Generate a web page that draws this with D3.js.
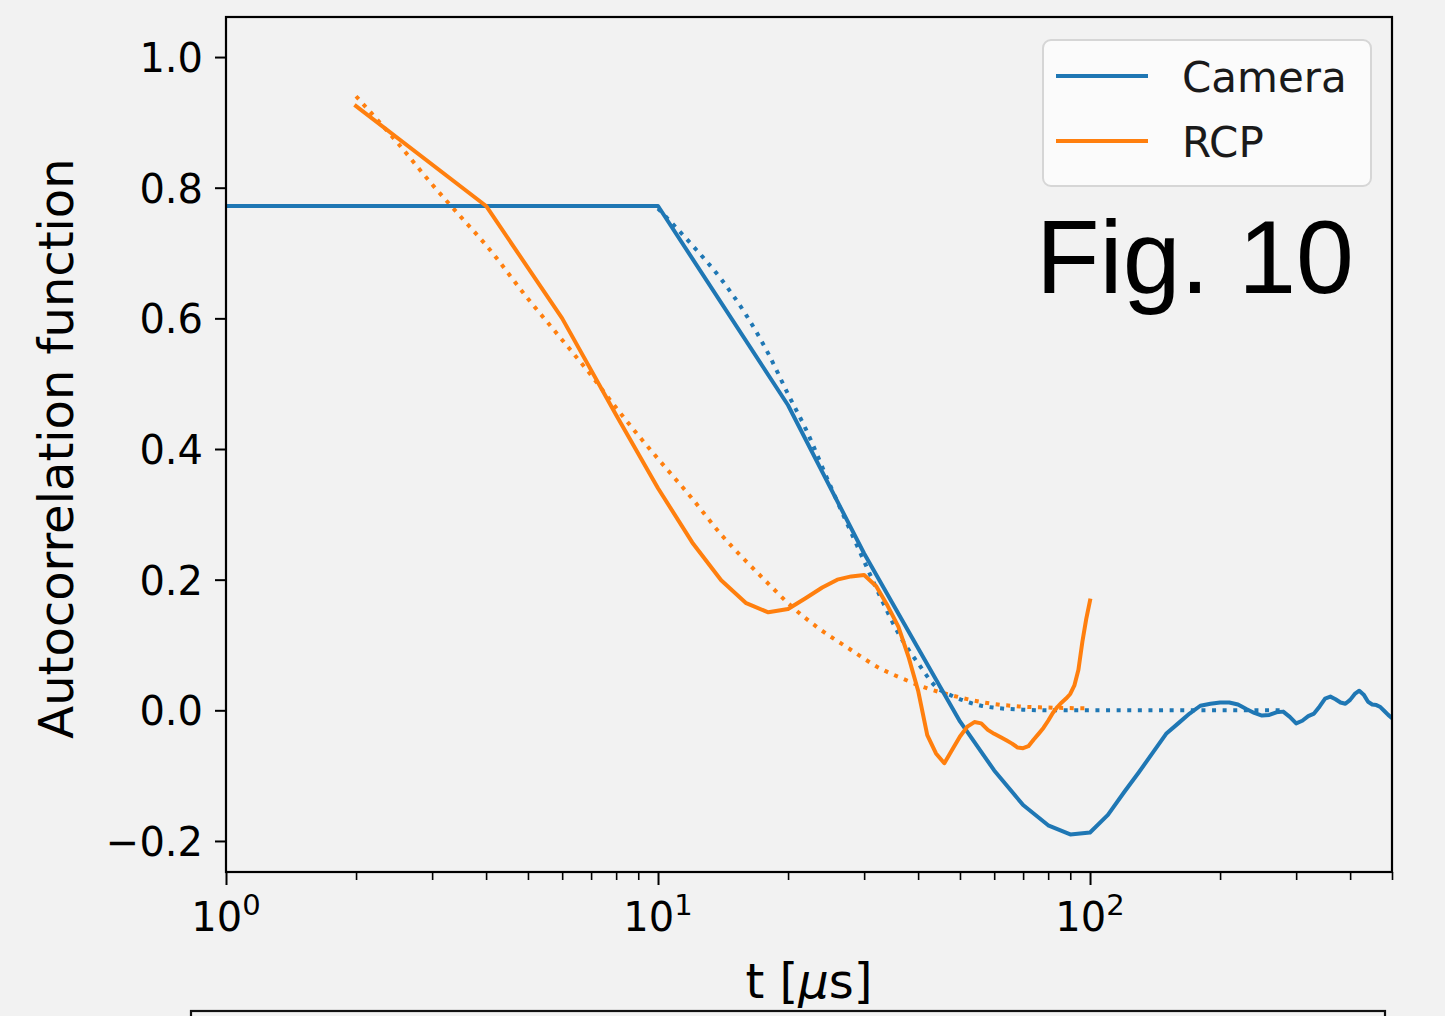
<!DOCTYPE html>
<html>
<head>
<meta charset="utf-8">
<script src="https://cdn.jsdelivr.net/npm/d3@7"></script>
<style>
  html, body { margin: 0; padding: 0; background: #f2f2f2; }
  svg { display: block; }
</style>
</head>
<body>
<svg id="chart" width="1445" height="1016"></svg>
<script>
// ---------------- data ----------------
const cameraT = [1, 10, 20, 30, 40, 50, 60, 70, 80, 90, 100, 110, 120, 130, 140, 150, 160, 170, 180, 190,
  200, 210, 220, 230, 240, 250, 260, 270, 280, 290, 300, 310, 320, 330, 340, 350, 360, 370, 380, 390,
  400, 410, 420, 430, 440, 450, 460, 470, 480, 490, 500];
const cameraACF = [0.772, 0.772, 0.467, 0.240, 0.095, -0.017, -0.092, -0.145, -0.176, -0.190, -0.187, -0.160, -0.125, -0.094, -0.064, -0.036, -0.020, -0.005, 0.007, 0.010,
  0.012, 0.012, 0.009, 0.002, -0.004, -0.008, -0.007, -0.003, -0.002, -0.010, -0.020, -0.016, -0.009, -0.005, 0.006, 0.018, 0.021, 0.017, 0.012, 0.010,
  0.016, 0.025, 0.030, 0.024, 0.013, 0.009, 0.008, 0.005, -0.001, -0.007, -0.012];

const cameraFitT = [10, 12, 14, 16, 18, 20, 22, 25, 28, 30, 33, 36, 40, 44, 48, 52, 56, 60, 70, 80, 100, 150, 200, 280];
const cameraFitACF = [0.768, 0.712, 0.660, 0.605, 0.546, 0.484, 0.430, 0.345, 0.272, 0.228, 0.168, 0.118, 0.072, 0.036, 0.022, 0.013, 0.007, 0.004, 0.001, 0.000, 0.000, 0.000, 0.000, 0.000];

const rcpT = [2, 4, 6, 8, 10, 12, 14, 16, 18, 20, 22, 24, 26, 28, 30, 32, 34, 36, 38, 40,
  42, 44, 46, 48, 50, 52, 54, 56, 58, 60, 62, 64, 66, 68, 70, 72, 74, 76, 78, 80,
  82, 84, 86, 88, 90, 92, 94, 96, 98, 100];
const rcpACF = [0.925, 0.772, 0.600, 0.452, 0.340, 0.257, 0.199, 0.164, 0.150, 0.155, 0.172, 0.188, 0.200, 0.205, 0.207, 0.190, 0.160, 0.128, 0.082, 0.030,
  -0.038, -0.066, -0.081, -0.060, -0.040, -0.025, -0.018, -0.020, -0.030, -0.036, -0.041, -0.046, -0.051, -0.057, -0.058, -0.055, -0.045, -0.036, -0.027, -0.016,
  -0.004, 0.005, 0.012, 0.018, 0.025, 0.038, 0.062, 0.105, 0.140, 0.168];

const rcpFitT = [2, 2.5, 3, 3.5, 4, 5, 6, 7, 8, 9, 10, 12, 14, 16, 18, 20, 23.5, 27.6, 32.7, 36.7, 41.4, 47.8, 56.8, 68.6, 82.9, 98];
const rcpFitACF = [0.940, 0.868, 0.805, 0.755, 0.712, 0.630, 0.567, 0.513, 0.463, 0.421, 0.385, 0.324, 0.269, 0.228, 0.194, 0.164, 0.126, 0.095, 0.064, 0.049, 0.035, 0.023, 0.012, 0.006, 0.004, 0.003];

const seriesNames = ["Camera", "RCP"];
const seriesColors = ["#1f77b4", "#ff7f0e"];

const yTicks = [-0.2, 0.0, 0.2, 0.4, 0.6, 0.8, 1.0];
const xMajorTicks = [1, 10, 100];
const xTickExp = ["0", "1", "2"];
const xMinorTicks = [2, 3, 4, 5, 6, 7, 8, 9, 20, 30, 40, 50, 60, 70, 80, 90, 200, 300, 400, 500];

const xLabel = "t [";
const yLabel = "Autocorrelation function";
const figText = "Fig. 10";

// ---------------- layout ----------------
const M = { left: 226, right: 1392, top: 17, bottom: 872 };
const svg = d3.select("#chart");

svg.append("rect").attr("width", 1445).attr("height", 1016).attr("fill", "#f2f2f2");

const x = d3.scaleLog().domain([1, 500]).range([M.left, M.right]);
const y = d3.scaleLinear().domain([-0.2475, 1.0613]).range([M.bottom, M.top]);

svg.append("defs").append("clipPath").attr("id", "clip")
  .append("rect").attr("x", M.left).attr("y", M.top)
  .attr("width", M.right - M.left).attr("height", M.bottom - M.top);

const tickFont = "DejaVu Sans, sans-serif";

// x axis ticks
const xAxisG = svg.append("g").attr("transform", `translate(0,${M.bottom})`);
xAxisG.call(d3.axisBottom(x).tickValues(xMajorTicks).tickSize(13).tickFormat(""))
  .call(g => g.select(".domain").remove())
  .call(g => g.selectAll("line").attr("stroke", "#000").attr("stroke-width", 2));
const xMinorG = svg.append("g").attr("transform", `translate(0,${M.bottom})`);
xMinorG.call(d3.axisBottom(x).tickValues(xMinorTicks).tickSize(8).tickFormat(""))
  .call(g => g.select(".domain").remove())
  .call(g => g.selectAll("line").attr("stroke", "#000").attr("stroke-width", 1.6));

// x tick labels with superscripts
xMajorTicks.forEach((v, i) => {
  const t = svg.append("text")
    .attr("x", x(v)).attr("y", 931)
    .attr("text-anchor", "middle")
    .attr("font-family", tickFont).attr("font-size", 40).attr("fill", "#000");
  t.append("tspan").text("10");
  t.append("tspan").attr("dy", -16).attr("font-size", 29).text(xTickExp[i]);
});

// y axis
const yAxisG = svg.append("g").attr("transform", `translate(${M.left},0)`);
yAxisG.call(d3.axisLeft(y).tickValues(yTicks).tickSize(11).tickPadding(12)
    .tickFormat(d => d3.format(".1f")(d).replace("-", "\u2212")))
  .call(g => g.select(".domain").remove())
  .call(g => g.selectAll("line").attr("stroke", "#000").attr("stroke-width", 2))
  .call(g => g.selectAll("text").attr("font-family", tickFont).attr("font-size", 40).attr("fill", "#000").attr("dy", "0.36em"));

// lines
const plot = svg.append("g").attr("clip-path", "url(#clip)");
const line = d3.line().x(d => x(d[0])).y(d => y(d[1]));
const smooth = d3.line().x(d => x(d[0])).y(d => y(d[1])).curve(d3.curveMonotoneX);

const zip = (a, b) => a.map((v, i) => [v, b[i]]);

plot.append("path").datum(zip(cameraFitT, cameraFitACF))
  .attr("d", smooth).attr("fill", "none").attr("stroke", seriesColors[0])
  .attr("stroke-width", 4).attr("stroke-dasharray", "4 6.6");
plot.append("path").datum(zip(rcpFitT, rcpFitACF))
  .attr("d", smooth).attr("fill", "none").attr("stroke", seriesColors[1])
  .attr("stroke-width", 4).attr("stroke-dasharray", "4 6.6");
plot.append("path").datum(zip(cameraT, cameraACF))
  .attr("d", line).attr("fill", "none").attr("stroke", seriesColors[0])
  .attr("stroke-width", 4).attr("stroke-linejoin", "round").attr("stroke-linecap", "square");
plot.append("path").datum(zip(rcpT, rcpACF))
  .attr("d", line).attr("fill", "none").attr("stroke", seriesColors[1])
  .attr("stroke-width", 4).attr("stroke-linejoin", "round").attr("stroke-linecap", "square");

// frame
svg.append("rect").attr("x", M.left).attr("y", M.top)
  .attr("width", M.right - M.left).attr("height", M.bottom - M.top)
  .attr("fill", "none").attr("stroke", "#000").attr("stroke-width", 2.2);

// axis labels
const xl = svg.append("text").attr("x", 809).attr("y", 998).attr("text-anchor", "middle")
  .attr("font-family", tickFont).attr("font-size", 48).attr("fill", "#000");
xl.append("tspan").text(xLabel);
xl.append("tspan").attr("font-style", "italic").text("\u03bc");
xl.append("tspan").text("s]");

svg.append("text").attr("transform", `translate(73,${(M.top + M.bottom) / 2 + 4}) rotate(-90)`)
  .attr("text-anchor", "middle").attr("font-family", tickFont).attr("font-size", 48)
  .attr("fill", "#000").text(yLabel);

// legend
const lg = svg.append("g");
lg.append("rect").attr("x", 1043).attr("y", 40).attr("width", 328).attr("height", 146)
  .attr("rx", 8).attr("fill", "#fbfbfb").attr("stroke", "#d6d6d6").attr("stroke-width", 2);
seriesNames.forEach((name, i) => {
  const cy = 76 + i * 65;
  lg.append("line").attr("x1", 1056).attr("x2", 1148).attr("y1", cy).attr("y2", cy)
    .attr("stroke", seriesColors[i]).attr("stroke-width", 4);
  lg.append("text").attr("x", 1182).attr("y", cy + 16).attr("font-family", tickFont)
    .attr("font-size", 42).attr("fill", "#1a1a1a").text(name);
});

// figure annotation
svg.append("text").attr("x", 1036).attr("y", 293).attr("font-family", "Liberation Sans, Arial, sans-serif")
  .attr("font-size", 104).attr("fill", "#000").text(figText);

// box of the next panel at bottom edge
svg.append("rect").attr("x", 191).attr("y", 1011).attr("width", 1194).attr("height", 40)
  .attr("fill", "none").attr("stroke", "#111").attr("stroke-width", 2.2);
</script>
</body>
</html>
